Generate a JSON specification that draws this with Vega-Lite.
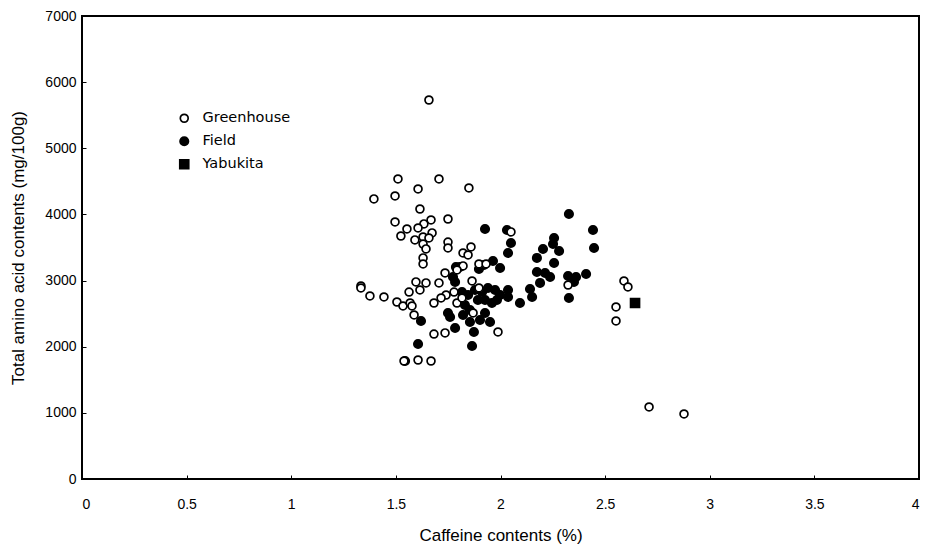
{
  "$schema": "https://vega.github.io/schema/vega-lite/v6.json",
  "width": 837,
  "height": 463,
  "autosize": "none",
  "padding": {"left": 82, "top": 16, "right": 10, "bottom": 72},
  "background": "white",
  "config": {
    "view": {"stroke": "black", "strokeWidth": 2},
    "font": "Liberation Sans",
    "axis": {
      "grid": false,
      "domain": false,
      "tickColor": "black",
      "tickSize": -4,
      "tickWidth": 1,
      "labelColor": "black",
      "titleColor": "black",
      "labelFont": "Liberation Sans",
      "titleFont": "Liberation Sans",
      "labelFontSize": 14,
      "titleFontSize": 17,
      "titleFontWeight": "normal"
    },
    "legend": {
      "title": null,
      "orient": "none",
      "legendX": 95,
      "legendY": 95,
      "labelFont": "DejaVu Sans",
      "labelFontSize": 14.5,
      "labelColor": "black",
      "labelOffset": 11,
      "rowPadding": 7,
      "symbolStrokeWidth": 1.7
    }
  },
  "data": {
    "values": [
      {"caffeine": 1.658, "amino": 5730, "group": "Greenhouse"},
      {"caffeine": 1.510, "amino": 4536, "group": "Greenhouse"},
      {"caffeine": 1.706, "amino": 4536, "group": "Greenhouse"},
      {"caffeine": 1.849, "amino": 4400, "group": "Greenhouse"},
      {"caffeine": 1.395, "amino": 4234, "group": "Greenhouse"},
      {"caffeine": 1.496, "amino": 4279, "group": "Greenhouse"},
      {"caffeine": 1.606, "amino": 4385, "group": "Greenhouse"},
      {"caffeine": 1.615, "amino": 4082, "group": "Greenhouse"},
      {"caffeine": 1.496, "amino": 3886, "group": "Greenhouse"},
      {"caffeine": 1.749, "amino": 3931, "group": "Greenhouse"},
      {"caffeine": 1.668, "amino": 3916, "group": "Greenhouse"},
      {"caffeine": 1.634, "amino": 3856, "group": "Greenhouse"},
      {"caffeine": 1.606, "amino": 3795, "group": "Greenhouse"},
      {"caffeine": 1.553, "amino": 3780, "group": "Greenhouse"},
      {"caffeine": 1.524, "amino": 3674, "group": "Greenhouse"},
      {"caffeine": 1.673, "amino": 3720, "group": "Greenhouse"},
      {"caffeine": 1.630, "amino": 3659, "group": "Greenhouse"},
      {"caffeine": 1.591, "amino": 3614, "group": "Greenhouse"},
      {"caffeine": 1.658, "amino": 3644, "group": "Greenhouse"},
      {"caffeine": 1.630, "amino": 3553, "group": "Greenhouse"},
      {"caffeine": 1.644, "amino": 3478, "group": "Greenhouse"},
      {"caffeine": 1.749, "amino": 3583, "group": "Greenhouse"},
      {"caffeine": 1.749, "amino": 3493, "group": "Greenhouse"},
      {"caffeine": 1.630, "amino": 3342, "group": "Greenhouse"},
      {"caffeine": 1.630, "amino": 3251, "group": "Greenhouse"},
      {"caffeine": 1.333, "amino": 2918, "group": "Greenhouse"},
      {"caffeine": 1.333, "amino": 2888, "group": "Greenhouse"},
      {"caffeine": 1.376, "amino": 2767, "group": "Greenhouse"},
      {"caffeine": 1.443, "amino": 2752, "group": "Greenhouse"},
      {"caffeine": 1.505, "amino": 2676, "group": "Greenhouse"},
      {"caffeine": 1.534, "amino": 2616, "group": "Greenhouse"},
      {"caffeine": 1.568, "amino": 2661, "group": "Greenhouse"},
      {"caffeine": 1.563, "amino": 2827, "group": "Greenhouse"},
      {"caffeine": 1.577, "amino": 2616, "group": "Greenhouse"},
      {"caffeine": 1.587, "amino": 2480, "group": "Greenhouse"},
      {"caffeine": 1.596, "amino": 2979, "group": "Greenhouse"},
      {"caffeine": 1.615, "amino": 2858, "group": "Greenhouse"},
      {"caffeine": 1.644, "amino": 2964, "group": "Greenhouse"},
      {"caffeine": 1.706, "amino": 2964, "group": "Greenhouse"},
      {"caffeine": 1.735, "amino": 3115, "group": "Greenhouse"},
      {"caffeine": 1.740, "amino": 2782, "group": "Greenhouse"},
      {"caffeine": 1.716, "amino": 2737, "group": "Greenhouse"},
      {"caffeine": 1.682, "amino": 2661, "group": "Greenhouse"},
      {"caffeine": 1.682, "amino": 2192, "group": "Greenhouse"},
      {"caffeine": 1.735, "amino": 2208, "group": "Greenhouse"},
      {"caffeine": 1.539, "amino": 1784, "group": "Greenhouse"},
      {"caffeine": 1.606, "amino": 1799, "group": "Greenhouse"},
      {"caffeine": 1.668, "amino": 1784, "group": "Greenhouse"},
      {"caffeine": 1.859, "amino": 3508, "group": "Greenhouse"},
      {"caffeine": 1.821, "amino": 3417, "group": "Greenhouse"},
      {"caffeine": 1.845, "amino": 3387, "group": "Greenhouse"},
      {"caffeine": 2.050, "amino": 3735, "group": "Greenhouse"},
      {"caffeine": 1.897, "amino": 3251, "group": "Greenhouse"},
      {"caffeine": 1.931, "amino": 3251, "group": "Greenhouse"},
      {"caffeine": 1.821, "amino": 3221, "group": "Greenhouse"},
      {"caffeine": 1.792, "amino": 3160, "group": "Greenhouse"},
      {"caffeine": 1.864, "amino": 2994, "group": "Greenhouse"},
      {"caffeine": 1.778, "amino": 2827, "group": "Greenhouse"},
      {"caffeine": 1.792, "amino": 2661, "group": "Greenhouse"},
      {"caffeine": 1.816, "amino": 2737, "group": "Greenhouse"},
      {"caffeine": 1.897, "amino": 2888, "group": "Greenhouse"},
      {"caffeine": 1.869, "amino": 2510, "group": "Greenhouse"},
      {"caffeine": 1.988, "amino": 2223, "group": "Greenhouse"},
      {"caffeine": 2.323, "amino": 2933, "group": "Greenhouse"},
      {"caffeine": 2.590, "amino": 2994, "group": "Greenhouse"},
      {"caffeine": 2.609, "amino": 2903, "group": "Greenhouse"},
      {"caffeine": 2.552, "amino": 2601, "group": "Greenhouse"},
      {"caffeine": 2.552, "amino": 2389, "group": "Greenhouse"},
      {"caffeine": 2.710, "amino": 1089, "group": "Greenhouse"},
      {"caffeine": 2.877, "amino": 983, "group": "Greenhouse"},
      {"caffeine": 1.787, "amino": 3205, "group": "Field"},
      {"caffeine": 1.783, "amino": 2979, "group": "Field"},
      {"caffeine": 1.926, "amino": 3780, "group": "Field"},
      {"caffeine": 2.031, "amino": 3765, "group": "Field"},
      {"caffeine": 2.050, "amino": 3568, "group": "Field"},
      {"caffeine": 2.036, "amino": 3417, "group": "Field"},
      {"caffeine": 2.203, "amino": 3478, "group": "Field"},
      {"caffeine": 2.174, "amino": 3342, "group": "Field"},
      {"caffeine": 1.964, "amino": 3296, "group": "Field"},
      {"caffeine": 1.998, "amino": 3190, "group": "Field"},
      {"caffeine": 1.921, "amino": 3236, "group": "Field"},
      {"caffeine": 1.897, "amino": 3175, "group": "Field"},
      {"caffeine": 1.806, "amino": 3205, "group": "Field"},
      {"caffeine": 1.773, "amino": 3054, "group": "Field"},
      {"caffeine": 2.174, "amino": 3130, "group": "Field"},
      {"caffeine": 2.189, "amino": 2964, "group": "Field"},
      {"caffeine": 2.141, "amino": 2873, "group": "Field"},
      {"caffeine": 2.036, "amino": 2858, "group": "Field"},
      {"caffeine": 2.036, "amino": 2752, "group": "Field"},
      {"caffeine": 2.093, "amino": 2661, "group": "Field"},
      {"caffeine": 2.151, "amino": 2752, "group": "Field"},
      {"caffeine": 2.327, "amino": 4007, "group": "Field"},
      {"caffeine": 2.442, "amino": 3765, "group": "Field"},
      {"caffeine": 2.447, "amino": 3493, "group": "Field"},
      {"caffeine": 2.256, "amino": 3644, "group": "Field"},
      {"caffeine": 2.251, "amino": 3553, "group": "Field"},
      {"caffeine": 2.280, "amino": 3447, "group": "Field"},
      {"caffeine": 2.256, "amino": 3266, "group": "Field"},
      {"caffeine": 2.213, "amino": 3115, "group": "Field"},
      {"caffeine": 2.237, "amino": 3054, "group": "Field"},
      {"caffeine": 2.323, "amino": 3069, "group": "Field"},
      {"caffeine": 2.361, "amino": 3054, "group": "Field"},
      {"caffeine": 2.409, "amino": 3100, "group": "Field"},
      {"caffeine": 2.351, "amino": 2979, "group": "Field"},
      {"caffeine": 2.327, "amino": 2737, "group": "Field"},
      {"caffeine": 1.620, "amino": 2389, "group": "Field"},
      {"caffeine": 1.749, "amino": 2510, "group": "Field"},
      {"caffeine": 1.606, "amino": 2041, "group": "Field"},
      {"caffeine": 1.544, "amino": 1784, "group": "Field"},
      {"caffeine": 1.759, "amino": 2449, "group": "Field"},
      {"caffeine": 1.783, "amino": 2283, "group": "Field"},
      {"caffeine": 1.873, "amino": 2223, "group": "Field"},
      {"caffeine": 1.864, "amino": 2011, "group": "Field"},
      {"caffeine": 1.926, "amino": 2510, "group": "Field"},
      {"caffeine": 1.950, "amino": 2374, "group": "Field"},
      {"caffeine": 1.816, "amino": 2827, "group": "Field"},
      {"caffeine": 1.845, "amino": 2782, "group": "Field"},
      {"caffeine": 1.878, "amino": 2858, "group": "Field"},
      {"caffeine": 1.912, "amino": 2827, "group": "Field"},
      {"caffeine": 1.940, "amino": 2888, "group": "Field"},
      {"caffeine": 1.830, "amino": 2631, "group": "Field"},
      {"caffeine": 1.854, "amino": 2555, "group": "Field"},
      {"caffeine": 1.892, "amino": 2706, "group": "Field"},
      {"caffeine": 1.926, "amino": 2706, "group": "Field"},
      {"caffeine": 1.821, "amino": 2480, "group": "Field"},
      {"caffeine": 1.854, "amino": 2374, "group": "Field"},
      {"caffeine": 1.902, "amino": 2404, "group": "Field"},
      {"caffeine": 1.974, "amino": 2858, "group": "Field"},
      {"caffeine": 1.998, "amino": 2782, "group": "Field"},
      {"caffeine": 1.983, "amino": 2706, "group": "Field"},
      {"caffeine": 1.959, "amino": 2661, "group": "Field"},
      {"caffeine": 2.643, "amino": 2661, "group": "Yabukita"}
    ]
  },
  "mark": {"type": "point", "filled": true, "strokeWidth": 1.7, "opacity": 1, "fillOpacity": 1, "strokeOpacity": 1},
  "encoding": {
    "x": {
      "field": "caffeine",
      "type": "quantitative",
      "scale": {"domain": [0, 4], "nice": false, "zero": true},
      "axis": {
        "values": [0, 0.5, 1, 1.5, 2, 2.5, 3, 3.5, 4],
        "format": "~g",
        "labelPadding": 22,
        "title": "Caffeine contents (%)",
        "titlePadding": 16
      }
    },
    "y": {
      "field": "amino",
      "type": "quantitative",
      "scale": {"domain": [0, 7000], "nice": false},
      "axis": {
        "values": [0, 1000, 2000, 3000, 4000, 5000, 6000, 7000],
        "format": "d",
        "labelPadding": 10,
        "title": "Total amino acid contents (mg/100g)",
        "titlePadding": 17
      }
    },
    "shape": {
      "field": "group",
      "type": "nominal",
      "scale": {"domain": ["Greenhouse", "Field", "Yabukita"], "range": ["circle", "circle", "square"]}
    },
    "fill": {
      "field": "group",
      "type": "nominal",
      "scale": {"domain": ["Greenhouse", "Field", "Yabukita"], "range": ["white", "black", "black"]}
    },
    "stroke": {
      "field": "group",
      "type": "nominal",
      "scale": {"domain": ["Greenhouse", "Field", "Yabukita"], "range": ["black", "black", "black"]}
    },
    "size": {
      "field": "group",
      "type": "nominal",
      "scale": {"domain": ["Greenhouse", "Field", "Yabukita"], "range": [62, 80, 165]}
    },
    "order": {"field": "group", "sort": "ascending"}
  }
}
